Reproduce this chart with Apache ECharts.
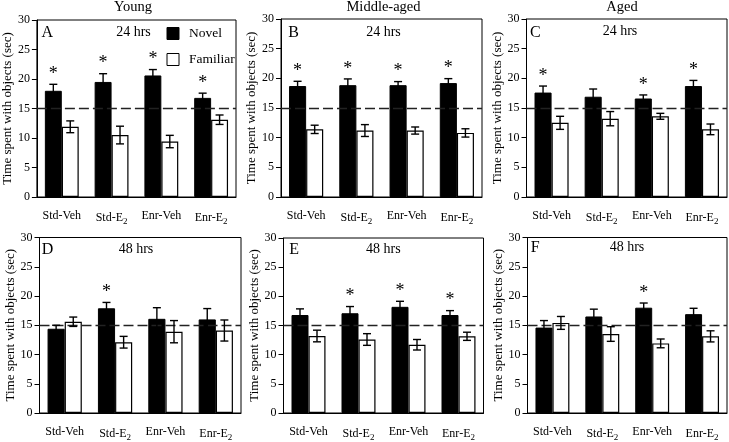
<!DOCTYPE html>
<html><head><meta charset="utf-8">
<script src="https://cdn.jsdelivr.net/npm/echarts@6/dist/echarts.min.js"></script>
<style>html,body{margin:0;padding:0;background:#fff}#c{width:729px;height:442px}</style>
</head><body><div id="c"></div>
<script>
const categories = ['Std-Veh', 'Std-E2', 'Enr-Veh', 'Enr-E2'];
const yTicks = [0, 5, 10, 15, 20, 25, 30];
const chanceLevel = 15;

// Panel A - Young 24 hrs
const novelA = [18.0, 19.5, 20.6, 16.8];
const novelErrA = [1.1, 1.4, 1.0, 0.8];
const familiarA = [11.9, 10.5, 9.4, 13.1];
const familiarErrA = [1.0, 1.5, 1.05, 0.8];
const sigA = [1, 1, 1, 1];
// Panel B - Middle-aged 24 hrs
const novelB = [18.7, 18.85, 18.85, 19.2];
const novelErrB = [0.8, 1.05, 0.6, 0.75];
const familiarB = [11.4, 11.2, 11.2, 10.8];
const familiarErrB = [0.7, 1.0, 0.6, 0.7];
const sigB = [1, 1, 1, 1];
// Panel C - Aged 24 hrs
const novelC = [17.6, 16.9, 16.6, 18.7];
const novelErrC = [1.1, 1.3, 0.6, 0.95];
const familiarC = [12.5, 13.2, 13.6, 11.4];
const familiarErrC = [1.1, 1.2, 0.5, 0.9];
const sigC = [1, 0, 1, 1];
// Panel D - Young 48 hrs
const novelD = [14.4, 17.9, 16.1, 16.0];
const novelErrD = [0.6, 1.0, 1.9, 1.85];
const familiarD = [15.6, 12.1, 13.9, 14.1];
const familiarErrD = [0.8, 1.0, 1.9, 1.8];
const sigD = [0, 1, 0, 0];
// Panel E - Middle-aged 48 hrs
const novelE = [16.8, 17.1, 18.2, 16.8];
const novelErrE = [1.05, 1.15, 0.95, 0.75];
const familiarE = [13.2, 12.6, 11.7, 13.15];
const familiarErrE = [1.0, 1.0, 0.9, 0.7];
const sigE = [0, 1, 1, 1];
// Panel F - Aged 48 hrs
const novelF = [14.6, 16.5, 18.0, 16.9];
const novelErrF = [1.2, 1.25, 0.8, 1.0];
const familiarF = [15.4, 13.5, 11.9, 13.1];
const familiarErrF = [1.1, 1.25, 0.75, 0.95];
const sigF = [0, 0, 1, 0];

const panelLetters = ['A', 'B', 'C', 'D', 'E', 'F'];
const columnTitles = ['Young', 'Middle-aged', 'Aged'];
const delayLabels = ['24 hrs', '24 hrs', '24 hrs', '48 hrs', '48 hrs', '48 hrs'];
const yName = 'Time spent with objects (sec)';

const panels = [
  [novelA, novelErrA, familiarA, familiarErrA, sigA],
  [novelB, novelErrB, familiarB, familiarErrB, sigB],
  [novelC, novelErrC, familiarC, familiarErrC, sigC],
  [novelD, novelErrD, familiarD, familiarErrD, sigD],
  [novelE, novelErrE, familiarE, familiarErrE, sigE],
  [novelF, novelErrF, familiarF, familiarErrF, sigF]
];

const FONT = 'Liberation Serif';
const grids = [
  {left: 34.5, top: 20, width: 201.5, height: 177},
  {left: 281, top: 19, width: 201, height: 178},
  {left: 526.5, top: 19, width: 200.5, height: 178},
  {left: 39.5, top: 237.5, width: 201.5, height: 177},
  {left: 283.5, top: 238, width: 200, height: 177},
  {left: 527.5, top: 237.5, width: 199.5, height: 177}
];

const BARW = 0.34;
function errRender(sign) {
  return function (params, api) {
    const x = api.value(0), v = api.value(1), e = api.value(2), s = api.value(3);
    const band = api.size([1, 0])[0];
    const c = api.coord([x, v]);
    const cx = c[0] + sign * band * BARW / 2;
    const hi = api.coord([x, v + e])[1];
    const lo = api.coord([x, v - e])[1];
    const hw = 4;
    const st = {stroke: '#000', lineWidth: 1.4};
    const ch = [
      {type: 'line', shape: {x1: cx, y1: hi, x2: cx, y2: lo}, style: st},
      {type: 'line', shape: {x1: cx - hw, y1: hi, x2: cx + hw, y2: hi}, style: st},
      {type: 'line', shape: {x1: cx - hw, y1: lo, x2: cx + hw, y2: lo}, style: st}
    ];
    if (s) {
      ch.push({type: 'text', style: {text: '*', x: cx, y: hi - 1, align: 'center', verticalAlign: 'bottom',
        font: '18px "' + FONT + '"', fill: '#000'}});
    }
    return {type: 'group', children: ch};
  };
}

const xAxis = [], yAxis = [], series = [];
grids.forEach((g, i) => {
  xAxis.push({
    type: 'category', gridIndex: i, data: categories,
    axisLine: {lineStyle: {color: '#000', width: 1}},
    axisTick: {alignWithLabel: true, length: 5, lineStyle: {color: '#000'}},
    axisLabel: {
      interval: 0, hideOverlap: false,
      color: '#000', fontFamily: FONT, fontSize: 12, margin: 13,
      formatter: v => v.replace(/E2$/, 'E{sub|2}'),
      rich: {sub: {fontSize: 9, fontFamily: FONT, color: '#000', padding: [7, 0, 0, 0]}}
    }
  });
  yAxis.push({
    type: 'value', gridIndex: i, min: 0, max: 30, interval: 5,
    name: yName, nameLocation: 'middle', nameRotate: 90, nameGap: 20,
    nameTextStyle: {color: '#000', fontFamily: FONT, fontSize: 13},
    axisLine: {show: true, lineStyle: {color: '#000', width: 1}},
    axisTick: {show: true, length: 5, lineStyle: {color: '#000'}},
    axisLabel: {color: '#000', fontFamily: FONT, fontSize: 12, margin: 7},
    splitLine: {show: false}
  });
  const [nv, ne, fv, fe, sg] = panels[i];
  series.push({
    type: 'bar', name: 'Novel', xAxisIndex: i, yAxisIndex: i, data: nv,
    barWidth: (BARW * 100) + '%', barGap: '0%',
    itemStyle: {color: '#000', borderColor: '#000', borderWidth: 1},
    silent: true,
    markLine: {
      silent: true, symbol: 'none', label: {show: false},
      lineStyle: {color: '#222', type: [10, 4], width: 1.4},
      data: [{yAxis: chanceLevel}]
    }
  });
  series.push({
    type: 'bar', name: 'Familiar', xAxisIndex: i, yAxisIndex: i, data: fv,
    barWidth: (BARW * 100) + '%', barGap: '0%',
    itemStyle: {color: '#fff', borderColor: '#000', borderWidth: 1.2},
    silent: true
  });
  series.push({
    type: 'custom', xAxisIndex: i, yAxisIndex: i, z: 5, silent: true,
    renderItem: errRender(-1),
    data: nv.map((v, k) => [k, v, ne[k], sg[k]])
  });
  series.push({
    type: 'custom', xAxisIndex: i, yAxisIndex: i, z: 5, silent: true,
    renderItem: errRender(1),
    data: fv.map((v, k) => [k, v, fe[k], 0])
  });
});

// baseline -> middle conversion for text placement
function txt(t, x, baseline, size, align) {
  return {type: 'text', x: x, y: baseline - 0.29 * size, silent: true,
    style: {text: t, font: size + 'px "' + FONT + '"', fill: '#000', align: align || 'center', verticalAlign: 'middle'}};
}
const graphic = [
  txt(columnTitles[0], 133, 11.5, 14.5), txt(columnTitles[1], 383.5, 11.5, 14.5), txt(columnTitles[2], 622, 11.5, 14.5),
  txt(panelLetters[0], 41.5, 37, 16, 'left'), txt(panelLetters[1], 288.3, 37, 16, 'left'), txt(panelLetters[2], 530, 37, 16, 'left'),
  txt(panelLetters[3], 41.7, 254.3, 16, 'left'), txt(panelLetters[4], 289.3, 254.3, 16, 'left'), txt(panelLetters[5], 530.7, 252, 16, 'left'),
  txt(delayLabels[0], 133.5, 36, 14), txt(delayLabels[1], 383.5, 36, 14), txt(delayLabels[2], 620, 35.5, 14),
  txt(delayLabels[3], 136, 253.3, 14), txt(delayLabels[4], 383.3, 253.3, 14), txt(delayLabels[5], 627, 251.7, 14)
];

const chart = echarts.init(document.getElementById('c'), null, {renderer: 'canvas'});
chart.setOption({
  animation: false,
  backgroundColor: '#fff',
  grid: grids.map(g => Object.assign({show: true, borderColor: '#000', borderWidth: 1, backgroundColor: 'transparent', containLabel: false}, g)),
  xAxis: xAxis, yAxis: yAxis, series: series,
  legend: {
    orient: 'vertical', left: 166.5, top: 26.5, padding: 0, itemWidth: 12, itemHeight: 12, itemGap: 12,
    selectedMode: false,
    textStyle: {color: '#000', fontFamily: FONT, fontSize: 13.5, padding: [0, 0, 0, 5]},
    data: [
      {name: 'Novel', icon: 'rect', itemStyle: {color: '#000', borderColor: '#000', borderWidth: 1}},
      {name: 'Familiar', icon: 'rect', itemStyle: {color: '#fff', borderColor: '#000', borderWidth: 1}}
    ]
  },
  graphic: graphic
});
</script>
</body></html>
